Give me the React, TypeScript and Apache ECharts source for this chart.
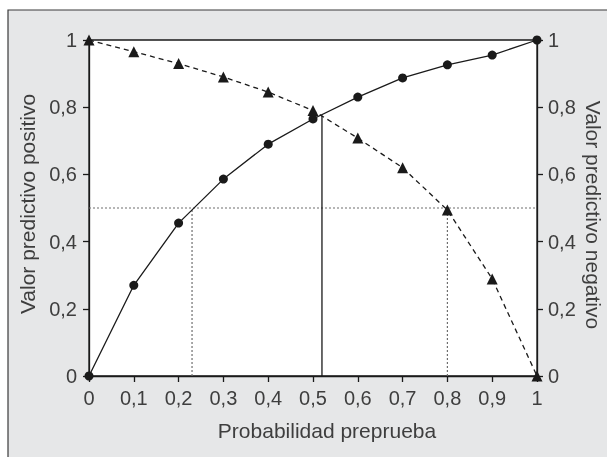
import React, { useEffect, useRef } from "react";
import * as echarts from "echarts";

// Pre-test probability (x axis)
const probPre = [0, 0.1, 0.2, 0.3, 0.4, 0.5, 0.6, 0.7, 0.8, 0.9, 1];
// Positive predictive value (circles, solid)
const ppv = [0, 0.27, 0.455, 0.586, 0.69, 0.765, 0.83, 0.887, 0.926, 0.955, 1];
// Negative predictive value (triangles, dashed)
const npv = [1, 0.965, 0.93, 0.89, 0.845, 0.79, 0.708, 0.62, 0.494, 0.289, 0];
// Reference level and where each curve crosses it
const refLevel = 0.5;
const ppvAtRef = 0.23;
const npvAtRef = 0.8;
// Crossing of both curves
const crossX = 0.52;
const crossY = 0.775;

const xTitle = "Probabilidad preprueba";
const yLeftTitle = "Valor predictivo positivo";
const yRightTitle = "Valor predictivo negativo";

const FONT = "'Liberation Sans', Arial, Helvetica, sans-serif";
const TEXT = "#3e3e3e";
const INK = "#1a1a1a";
const DOT = "#6e6e6e";

const fmt = (v: number) => String(+v.toFixed(1)).replace(".", ",");

export default function App() {
  const ref = useRef<HTMLDivElement>(null);
  useEffect(() => {
    if (!ref.current) return;
    const chart = echarts.init(ref.current, undefined, { renderer: "svg" });
    const axisCommon = {
      type: "value" as const,
      min: 0,
      max: 1,
      splitLine: { show: false },
      axisLine: { show: true, lineStyle: { color: INK, width: 1.3 } },
      axisTick: { show: true, inside: false, length: 6, lineStyle: { color: INK, width: 1.3 } },
      axisLabel: { color: TEXT, fontSize: 20, fontFamily: FONT, formatter: fmt },
      nameLocation: "middle" as const,
      nameTextStyle: { color: TEXT, fontSize: 21, lineHeight: 21, fontFamily: FONT },
    };
    chart.setOption({
      animation: false,
      graphic: [
        {
          type: "rect",
          z: -10,
          silent: true,
          shape: { x: 8, y: 10, width: 640, height: 480 },
          style: { fill: "#e6e7e8", stroke: "#3a3a3a", lineWidth: 1.2 },
        },
      ],
      grid: {
        left: 89,
        top: 40,
        right: 70,
        bottom: 81,
        show: true,
        backgroundColor: "#ffffff",
        borderColor: INK,
        borderWidth: 1.3,
        containLabel: false,
        outerBoundsMode: "none",
      },
      xAxis: {
        ...axisCommon,
        interval: 0.1,
        name: xTitle,
        nameGap: 44,
        nameTextStyle: { ...axisCommon.nameTextStyle, padding: [0, 0, 0, 28] },
        axisLabel: { ...axisCommon.axisLabel, margin: 12 },
      },
      yAxis: [
        {
          ...axisCommon,
          position: "left",
          interval: 0.2,
          name: yLeftTitle,
          nameGap: 46,
          nameTextStyle: { ...axisCommon.nameTextStyle, padding: [0, 0, 0, 8] },
          axisLabel: { ...axisCommon.axisLabel, margin: 12 },
        },
        {
          ...axisCommon,
          position: "right",
          interval: 0.2,
          name: yRightTitle,
          nameGap: 46,
          nameRotate: -90,
          nameMoveOverlap: false,
          nameTextStyle: { ...axisCommon.nameTextStyle, padding: [0, 0, 0, 14] },
          axisLabel: { ...axisCommon.axisLabel, margin: 11 },
        },
      ],
      series: [
        {
          type: "line",
          data: [[0, refLevel], [1, refLevel]],
          symbol: "none",
          lineStyle: { color: DOT, width: 1.2, type: [2, 2] },
          z: 1,
        },
        {
          type: "line",
          data: [[ppvAtRef, 0], [ppvAtRef, refLevel]],
          symbol: "none",
          lineStyle: { color: DOT, width: 1.2, type: [2, 2] },
          z: 1,
        },
        {
          type: "line",
          data: [[npvAtRef, 0], [npvAtRef, refLevel]],
          symbol: "none",
          lineStyle: { color: DOT, width: 1.2, type: [2, 2] },
          z: 1,
        },
        {
          type: "line",
          data: [[crossX, 0], [crossX, crossY]],
          symbol: "none",
          lineStyle: { color: INK, width: 1.3 },
          z: 2,
        },
        {
          name: yLeftTitle,
          type: "line",
          data: probPre.map((x, i) => [x, ppv[i]]),
          symbol: "circle",
          symbolSize: 9,
          clip: false,
          itemStyle: { color: INK },
          lineStyle: { color: INK, width: 1.3 },
          z: 3,
        },
        {
          name: yRightTitle,
          type: "line",
          data: probPre.map((x, i) => [x, npv[i]]),
          symbol: "triangle",
          symbolSize: 11,
          clip: false,
          itemStyle: { color: INK },
          lineStyle: { color: INK, width: 1.3, type: [5, 4] },
          z: 4,
        },
      ],
    });
    return () => chart.dispose();
  }, []);
  return (
    <div
      ref={ref}
      style={{ position: "fixed", left: 0, top: 0, width: 607, height: 457 }}
    />
  );
}
